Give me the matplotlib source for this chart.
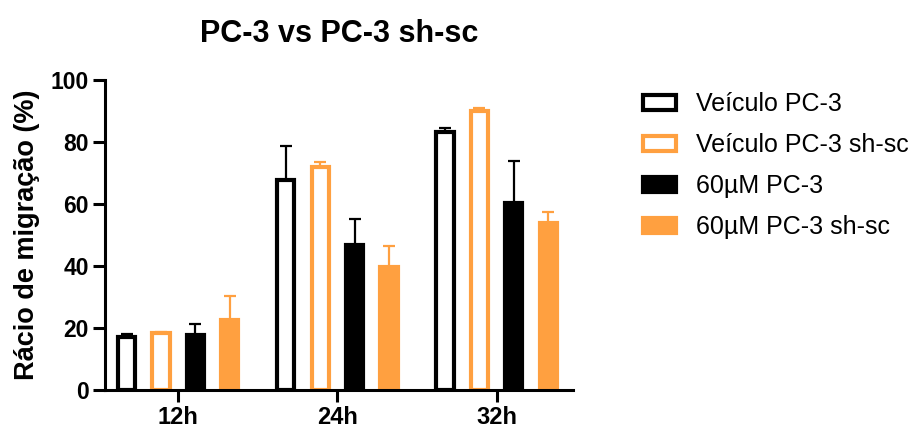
import numpy as np
import matplotlib.pyplot as plt

plt.rcParams['font.family'] = ['Liberation Sans', 'DejaVu Sans']

groups = ['12h', '24h', '32h']
series = ['Veículo PC-3', 'Veículo PC-3 sh-sc', '60µM PC-3', '60µM PC-3 sh-sc']
means = [
    [17.2, 67.7, 83.3],
    [18.3, 72.0, 90.1],
    [17.6, 46.8, 60.4],
    [22.6, 39.8, 54.0],
]
errs = [
    [0.8, 11.1, 1.2],
    [0.5, 1.5, 1.0],
    [3.6, 8.4, 13.5],
    [7.8, 6.7, 3.5],
]

orange = '#FFA040'
edge_cols = ['black', orange, 'black', orange]
face_cols = ['white', 'white', 'black', orange]

fig = plt.figure(figsize=(9.1, 4.3), dpi=100)
ax = fig.add_axes([0.1154, 0.093, 0.5143, 0.721])

x = np.arange(len(groups))
pitch = 0.216
width = 0.108
for i in range(4):
    pos = x + (i - 1.5) * pitch
    ax.bar(pos, means[i], width, color=face_cols[i], edgecolor=edge_cols[i],
           linewidth=3, label=series[i], zorder=2)
    ax.errorbar(pos, means[i], yerr=[np.zeros(3), errs[i]], fmt='none',
                ecolor=edge_cols[i], elinewidth=1.6, capsize=4, capthick=1.6,
                zorder=1)

ax.set_xlim(-0.46, 2.48)
ax.set_ylim(0, 100)
ax.set_yticks([0, 20, 40, 60, 80, 100])
ax.set_xticks(x)
ax.set_xticklabels(groups)
for lab in ax.get_yticklabels():
    lab.set_fontweight('bold')
    lab.set_fontsize(16.5)
for lab in ax.get_xticklabels():
    lab.set_fontweight('bold')
    lab.set_fontsize(17)
ax.tick_params(width=2.2, length=8.5, direction='out', pad=3)
ax.tick_params(axis='x', pad=3)
ax.spines['top'].set_visible(False)
ax.spines['right'].set_visible(False)
ax.spines['left'].set_linewidth(2.2)
ax.spines['bottom'].set_linewidth(2.2)
ax.set_ylabel('Rácio de migração (%)', fontsize=19.5, fontweight='bold', labelpad=8)
ax.set_title('PC-3 vs PC-3 sh-sc', fontsize=22, fontweight='bold', pad=27)

ax.legend(loc='upper left', bbox_to_anchor=(1.15, 0.96), frameon=False,
          fontsize=18, handlelength=1.3, handleheight=0.5, labelspacing=0.68,
          handletextpad=0.8, borderpad=0, borderaxespad=0)

fig.savefig('out.png', dpi=100)
